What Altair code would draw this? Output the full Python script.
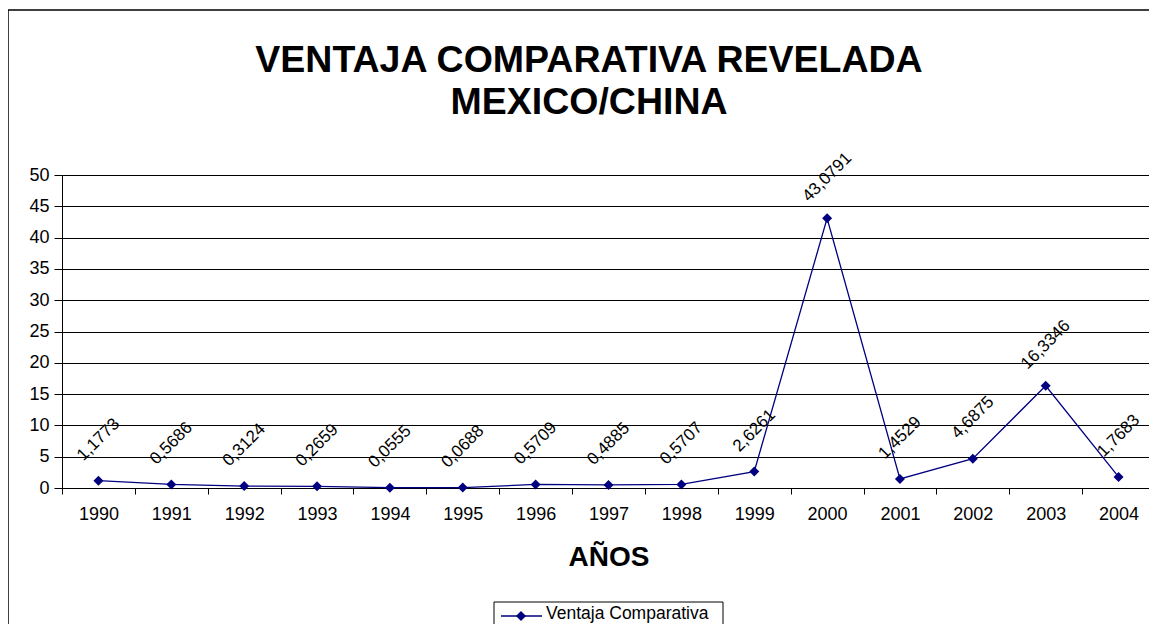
import altair as alt
import pandas as pd

# ---- data ----
years = [str(y) for y in range(1990, 2005)]
values = [1.1773, 0.5686, 0.3124, 0.2659, 0.0555, 0.0688, 0.5709, 0.4885,
          0.5707, 2.6261, 43.0791, 1.4529, 4.6875, 16.3346, 1.7683]
series_name = "Ventaja Comparativa"
title_line1 = "VENTAJA COMPARATIVA REVELADA"
title_line2 = "MEXICO/CHINA"
x_title = "AÑOS"
y_ticks = [0, 5, 10, 15, 20, 25, 30, 35, 40, 45, 50]

df = pd.DataFrame({"year": years, "value": values, "serie": series_name})

W, H = 1093, 313
FONT = "Liberation Sans"
NAVY = "#000080"

base = alt.Chart(df)

x_enc = alt.X(
    "year:O",
    sort=years,
    scale=alt.Scale(type="band", paddingInner=0, paddingOuter=0),
    axis=alt.Axis(
        title=x_title, labelAngle=0, tickBand="extent",
        labelFont=FONT, labelFontSize=18, labelColor="#000", labelPadding=11,
        tickColor="#000", tickSize=6, domainColor="#000",
        titleFont=FONT, titleFontSize=28, titleFontWeight="bold",
        titleColor="#000", titlePadding=20, grid=False,
    ),
)
y_enc = alt.Y(
    "value:Q",
    scale=alt.Scale(domain=[0, 50], nice=False),
    axis=alt.Axis(
        values=y_ticks, title=None, grid=True, gridColor="#000",
        gridOpacity=1, labelFont=FONT, labelFontSize=18, labelColor="#000",
        labelPadding=5, tickColor="#000", tickSize=8, domainColor="#000",
    ),
)

line = base.mark_line(color=NAVY, strokeWidth=1.3).encode(x=x_enc, y=y_enc)
points = base.mark_point(shape="diamond", filled=True, size=100, color=NAVY,
                         opacity=1).encode(x=x_enc, y=y_enc)
# offset of ~41px straight up, expressed in the rotated (315 deg) text frame
labels = base.transform_calculate(
    lab="replace(format(datum.value, '.4f'), '.', ',')"
).mark_text(angle=315, dx=29, dy=-29, font=FONT, fontSize=17, color="#000",
            align="center", baseline="middle").encode(
    x=x_enc, y=y_enc, text="lab:N")

one = alt.Data(values=[{"serie": series_name}])

frame = alt.Chart(one).mark_rect(fill="white", fillOpacity=0, stroke="#000",
                                 strokeWidth=1.5).encode(
    x=alt.value(-54), x2=alt.value(1100), y=alt.value(-165), y2=alt.value(520))

t1 = alt.Chart(one).mark_text(text=title_line1, font=FONT, fontSize=37.5,
                              fontWeight="bold", color="#000", align="center",
                              baseline="alphabetic").encode(
    x=alt.value(527), y=alt.value(-103))
t2 = alt.Chart(one).mark_text(text=title_line2, font=FONT, fontSize=37.5,
                              fontWeight="bold", color="#000", align="center",
                              baseline="alphabetic").encode(
    x=alt.value(527), y=alt.value(-61))

# legend box
leg_box = alt.Chart(one).mark_rect(fill="white", stroke="#000",
                                   strokeWidth=1).encode(
    x=alt.value(432), x2=alt.value(661), y=alt.value(427), y2=alt.value(480))
leg_line = alt.Chart(one).mark_rule(color=NAVY, strokeWidth=1.3).encode(
    x=alt.value(439), x2=alt.value(480), y=alt.value(441))
leg_pt = alt.Chart(one).mark_point(shape="diamond", filled=True, size=100,
                                   color=NAVY, opacity=1).encode(
    x=alt.value(459), y=alt.value(441))
leg_txt = alt.Chart(one).mark_text(font=FONT, fontSize=17.5, color="#000",
                                   align="left", baseline="middle").encode(
    x=alt.value(484), y=alt.value(439), text="serie:N")

chart = alt.layer(
    frame, line, points, labels, t1, t2, leg_box, leg_line, leg_pt, leg_txt
).properties(
    width=W, height=H,
    autosize=alt.AutoSizeParams(type="none"),
    padding={"left": 54, "top": 167, "right": -6, "bottom": 136},
).configure_view(stroke="#808080", strokeWidth=1).configure(background="white")

chart.save("out.html", embed_options={"renderer": "svg", "actions": False})
